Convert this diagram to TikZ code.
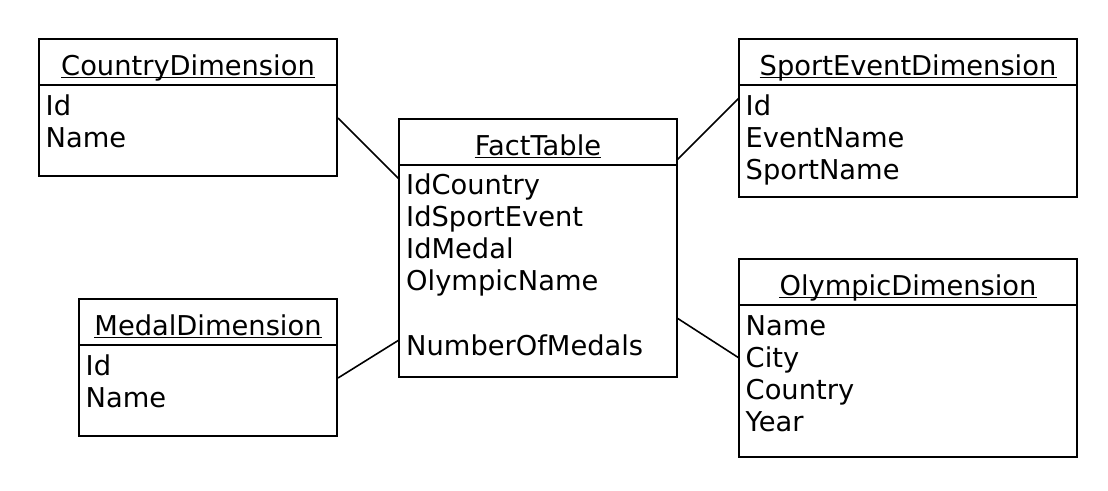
\documentclass[tikz,border=0pt]{standalone}
\usepackage{fontspec}
\setmainfont{DejaVu Sans}
\newcommand{\flist}[1]{\begin{tabular}[t]{@{}l@{}}#1\end{tabular}}
\begin{document}
\begin{tikzpicture}[x=1pt,y=-1pt,
  tbox/.style={draw,line width=1.6pt,inner sep=0,outer sep=0,anchor=north west},
  ttl/.style={inner sep=0,anchor=base,font=\fontsize{27.3}{32.3}\selectfont},
  fld/.style={inner sep=0,anchor=base west,font=\fontsize{27.3}{32.3}\selectfont},
  conn/.style={line width=1.6pt},
  uline/.style={line width=1.4pt}]
\fill[white] (0,0) rectangle (1108,490);
\useasboundingbox (0,0) rectangle (1108,490);

% CountryDimension
\node[tbox,minimum width=298pt,minimum height=137pt] (cd) at (39,39) {};
\draw[line width=1.6pt] (39,85) -- (337,85);
\node[ttl] (cdt) at (188,75) {CountryDimension};
\draw[uline] ([yshift=-2.5pt]cdt.base west) -- ([yshift=-2.5pt]cdt.base east);
\node[fld] (cdf) at (45.5,115) {\flist{Id\\Name}};

% SportEventDimension
\node[tbox,minimum width=338pt,minimum height=158pt] (sd) at (739,39) {};
\draw[line width=1.6pt] (739,85) -- (1077,85);
\node[ttl] (sdt) at (908,75) {SportEventDimension};
\draw[uline] ([yshift=-2.5pt]sdt.base west) -- ([yshift=-2.5pt]sdt.base east);
\node[fld] (sdf) at (745.5,115) {\flist{Id\\EventName\\SportName}};

% FactTable
\node[tbox,minimum width=278pt,minimum height=258pt] (ft) at (399,119) {};
\draw[line width=1.6pt] (399,165) -- (677,165);
\node[ttl] (ftt) at (538,155) {FactTable};
\draw[uline] ([yshift=-2.5pt]ftt.base west) -- ([yshift=-2.5pt]ftt.base east);
\node[fld] (ftf) at (406,194) {\flist{IdCountry\\IdSportEvent\\IdMedal\\OlympicName\\ \\NumberOfMedals}};

% MedalDimension
\node[tbox,minimum width=258pt,minimum height=137pt] (md) at (79,299) {};
\draw[line width=1.6pt] (79,345) -- (337,345);
\node[ttl] (mdt) at (208,335) {MedalDimension};
\draw[uline] ([yshift=-2.5pt]mdt.base west) -- ([yshift=-2.5pt]mdt.base east);
\node[fld] (mdf) at (85.5,375) {\flist{Id\\Name}};

% OlympicDimension
\node[tbox,minimum width=338pt,minimum height=198pt] (od) at (739,259) {};
\draw[line width=1.6pt] (739,305) -- (1077,305);
\node[ttl] (odt) at (908,295) {OlympicDimension};
\draw[uline] ([yshift=-2.5pt]odt.base west) -- ([yshift=-2.5pt]odt.base east);
\node[fld] (odf) at (745.5,335) {\flist{Name\\City\\Country\\Year}};

% connectors
\draw[conn] ([shift={(1,79)}]cd.north east) -- ([shift={(0,60)}]ft.north west);
\draw[conn] ([shift={(0,41)}]ft.north east) -- ([shift={(0,59)}]sd.north west);
\draw[conn] ([shift={(1,79)}]md.north east) -- ([shift={(0,221)}]ft.north west);
\draw[conn] ([shift={(0,199)}]ft.north east) -- ([shift={(0,99)}]od.north west);
\end{tikzpicture}
\end{document}
